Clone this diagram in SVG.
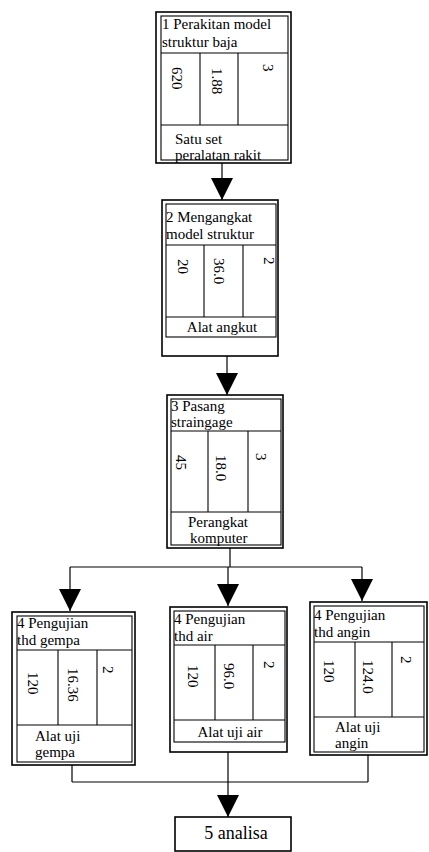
<svg xmlns="http://www.w3.org/2000/svg" width="429" height="852" viewBox="0 0 429 852">
<defs>
<style>
.o{fill:#fff;stroke:#000;stroke-width:1.6}
.i{fill:none;stroke:#000;stroke-width:1.1}
.l{stroke:#000;stroke-width:1.2;fill:none}
text{font-family:"Liberation Serif","Times New Roman",serif;font-size:15px;fill:#000}
.n{font-size:15px}
.c{text-anchor:middle}
.big{font-size:18px}
</style>
<marker id="ah" markerUnits="userSpaceOnUse" markerWidth="22" markerHeight="22" viewBox="0 0 20 20" refX="20" refY="10" orient="auto">
<path d="M0,0 L20,10 L0,20 Z" fill="#000"/>
</marker>
</defs>
<rect width="429" height="852" fill="#fff"/>
<g id="connectors">
<line class="l" x1="222" y1="163" x2="222" y2="200" marker-end="url(#ah)"/>
<line class="l" x1="227" y1="356" x2="227" y2="395" marker-end="url(#ah)"/>
<line class="l" x1="230" y1="548" x2="230" y2="567"/>
<line class="l" x1="70" y1="567" x2="362" y2="567"/>
<line class="l" x1="70" y1="567" x2="70" y2="611" marker-end="url(#ah)"/>
<line class="l" x1="228" y1="567" x2="228" y2="606" marker-end="url(#ah)"/>
<line class="l" x1="362" y1="567" x2="362" y2="601" marker-end="url(#ah)"/>
<line class="l" x1="72" y1="765" x2="72" y2="782"/>
<line class="l" x1="228" y1="752" x2="228" y2="782"/>
<line class="l" x1="368" y1="755" x2="368" y2="782"/>
<line class="l" x1="72" y1="782" x2="368" y2="782"/>
<line class="l" x1="228" y1="782" x2="228" y2="817" marker-end="url(#ah)"/>
</g>
<g id="node1">
<rect class="o" x="156" y="12" width="135" height="151"/>
<rect class="i" x="161" y="16" width="127" height="144"/>
<line class="i" x1="161" y1="53" x2="288" y2="53"/>
<line class="i" x1="200" y1="53" x2="200" y2="125"/>
<line class="i" x1="238" y1="53" x2="238" y2="125"/>
<line class="i" x1="161" y1="125" x2="288" y2="125"/>
<text x="162" y="29">1 Perakitan model</text>
<text x="162" y="47">struktur baja</text>
<text class="n" transform="translate(172,67) rotate(90)">620</text>
<text class="n" transform="translate(212,68) rotate(90)">1.88</text>
<text class="n" transform="translate(263,64) rotate(90)">3</text>
<text x="175" y="144">Satu set</text>
<text x="175" y="160">peralatan rakit</text>
</g>
<g id="node2">
<rect class="o" x="162" y="200" width="116" height="156"/>
<rect class="i" x="166" y="204" width="110" height="133"/>
<line class="i" x1="166" y1="245" x2="276" y2="245"/>
<line class="i" x1="204" y1="245" x2="204" y2="317"/>
<line class="i" x1="243" y1="245" x2="243" y2="317"/>
<line class="i" x1="166" y1="317" x2="276" y2="317"/>
<text x="166" y="222">2 Mengangkat</text>
<text x="166" y="239">model struktur</text>
<text class="n" transform="translate(178,259) rotate(90)">20</text>
<text class="n" transform="translate(214,258) rotate(90)">36.0</text>
<text class="n" transform="translate(264,257) rotate(90)">2</text>
<text class="c" x="222" y="332">Alat angkut</text>
</g>
<g id="node3">
<rect class="o" x="167" y="395" width="116" height="153"/>
<rect class="i" x="171" y="399" width="110" height="146"/>
<line class="i" x1="171" y1="431" x2="281" y2="431"/>
<line class="i" x1="208" y1="431" x2="208" y2="512"/>
<line class="i" x1="248" y1="431" x2="248" y2="512"/>
<line class="i" x1="171" y1="512" x2="281" y2="512"/>
<text x="171" y="411">3 Pasang</text>
<text x="171" y="427">straingage</text>
<text class="n" transform="translate(176,455) rotate(90)">45</text>
<text class="n" transform="translate(216,455) rotate(90)">18.0</text>
<text class="n" transform="translate(256,453) rotate(90)">3</text>
<text x="188" y="527">Perangkat</text>
<text x="190" y="543">komputer</text>
</g>
<g id="node4a">
<rect class="o" x="12" y="612" width="123" height="153"/>
<rect class="i" x="17" y="616" width="115" height="146"/>
<line class="i" x1="17" y1="650" x2="132" y2="650"/>
<line class="i" x1="58" y1="650" x2="58" y2="725"/>
<line class="i" x1="97" y1="650" x2="97" y2="725"/>
<line class="i" x1="17" y1="725" x2="132" y2="725"/>
<text x="17" y="628">4 Pengujian</text>
<text x="17" y="645">thd gempa</text>
<text class="n" transform="translate(28,672) rotate(90)">120</text>
<text class="n" transform="translate(68,668) rotate(90)">16.36</text>
<text class="n" transform="translate(103,666) rotate(90)">2</text>
<text x="35" y="741">Alat uji</text>
<text x="35" y="757">gempa</text>
</g>
<g id="node4b">
<rect class="o" x="170" y="607" width="117" height="145"/>
<rect class="i" x="174" y="611" width="111" height="131"/>
<line class="i" x1="174" y1="645" x2="285" y2="645"/>
<line class="i" x1="215" y1="645" x2="215" y2="720"/>
<line class="i" x1="253" y1="645" x2="253" y2="720"/>
<line class="i" x1="174" y1="720" x2="285" y2="720"/>
<text x="174" y="624">4 Pengujian</text>
<text x="174" y="641">thd air</text>
<text class="n" transform="translate(188,665) rotate(90)">120</text>
<text class="n" transform="translate(224,663) rotate(90)">96.0</text>
<text class="n" transform="translate(264,661) rotate(90)">2</text>
<text class="c" x="230" y="737">Alat uji air</text>
</g>
<g id="node4c">
<rect class="o" x="310" y="602" width="117" height="153"/>
<rect class="i" x="314" y="606" width="110" height="146"/>
<line class="i" x1="314" y1="642" x2="424" y2="642"/>
<line class="i" x1="355" y1="642" x2="355" y2="717"/>
<line class="i" x1="392" y1="642" x2="392" y2="717"/>
<line class="i" x1="314" y1="717" x2="424" y2="717"/>
<text x="314" y="620">4 Pengujian</text>
<text x="314" y="637">thd angin</text>
<text class="n" transform="translate(324,660) rotate(90)">120</text>
<text class="n" transform="translate(363,660) rotate(90)">124.0</text>
<text class="n" transform="translate(401,656) rotate(90)">2</text>
<text x="335" y="732">Alat uji</text>
<text x="335" y="748">angin</text>
</g>
<g id="node5">
<rect class="o" x="175" y="817" width="116" height="34"/>
<text class="c big" x="236" y="839">5 analisa</text>
</g>
</svg>
